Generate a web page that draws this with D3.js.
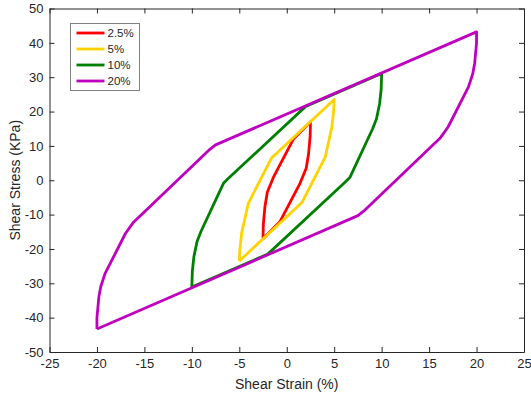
<!DOCTYPE html>
<html>
<head>
<meta charset="utf-8">
<script src="https://cdn.jsdelivr.net/npm/d3@7"></script>
<style>
  html, body { margin: 0; padding: 0; background: #fff; }
  svg { display: block; font-family: "Liberation Sans", Arial, Helvetica, sans-serif; }
</style>
</head>
<body>
<svg id="chart" width="531" height="400"></svg>
<script>
// Hysteresis loops: shear strain (%) vs shear stress (kPa) for four strain amplitudes
const seriesNames = ["2.5%", "5%", "10%", "20%"];
const seriesColors = ["#ff0000", "#ffd200", "#008000", "#bf00bf"];

const strain25 = [-2.5, -2.47, -2.3, -2.05, -1.4, 0.73, 2.5, 2.47, 2.3, 2.05, 1.4, -0.73, -2.5];
const stress25 = [-17, -13, -7.7, -3.5, 0.9, 12.1, 17, 13, 7.7, 3.5, -0.9, -12.1, -17];

const strain5 = [-5, -4.95, -4.75, -4.05, -1.6, 5, 4.95, 4.75, 4.05, 1.6, -5];
const stress5 = [-23.5, -20.5, -15.4, -6.7, 6.5, 23.5, 20.5, 15.4, 6.7, -6.5, -23.5];

const strain10 = [-10, -9.95, -9.78, -9.45, -9.05, -6.67, -6.14, 2.0, 10, 9.95, 9.78, 9.45, 9.05, 6.67, 6.14, -2.0, -10];
const stress10 = [-31.1, -26.5, -22.2, -17.8, -15.0, -0.9, 0.57, 21.5, 31.1, 26.5, 22.2, 17.8, 15.0, 0.9, -0.57, -21.5, -31.1];

const strain20 = [-20, -20, -19.9, -19.8, -19.6, -19.15, -17.0, -16.2, -8.1, -7.5, 20,
                  20, 19.9, 19.8, 19.6, 19.15, 17.0, 16.2, 8.1, 7.5, -20];
const stress20 = [-43.3, -40, -37, -34, -31, -27.2, -15.5, -12.4, 9.0, 10.3, 43.2,
                  40, 37, 34, 31, 27.2, 15.5, 12.4, -9.0, -10.3, -43.3];

const xTicks = [-25, -20, -15, -10, -5, 0, 5, 10, 15, 20, 25];
const yTicks = [-50, -40, -30, -20, -10, 0, 10, 20, 30, 40, 50];

const seriesData = [
  [strain25, stress25],
  [strain5, stress5],
  [strain10, stress10],
  [strain20, stress20]
].map(([xs, ys]) => xs.map((v, i) => [v, ys[i]]));

const svg = d3.select("#chart");
const plotLeft = 49.5, plotRight = 524, plotTop = 8.5, plotBottom = 352;

const x = d3.scaleLinear().domain([-25, 25]).range([plotLeft, plotRight]);
const y = d3.scaleLinear().domain([-50, 50]).range([plotBottom, plotTop]);

const axisColor = "#262626";
const plainNumber = d => String(d);

function styleAxis(g) {
  g.selectAll("path.domain").attr("stroke", axisColor).attr("stroke-width", 1);
  g.selectAll(".tick line").attr("stroke", axisColor);
  g.selectAll(".tick text").attr("fill", axisColor).attr("font-size", 13)
    .attr("font-family", "Liberation Sans, Arial, sans-serif");
}

// Loops
const line = d3.line().x(d => x(d[0])).y(d => y(d[1]));
svg.append("g").selectAll("path")
  .data(seriesData)
  .join("path")
  .attr("d", line)
  .attr("fill", "none")
  .attr("stroke", (d, i) => seriesColors[i])
  .attr("stroke-width", 2.8)
  .attr("stroke-linejoin", "round");

// Axes (ticks point inward, box on all sides)
svg.append("g").attr("transform", `translate(0,${plotBottom})`)
  .call(d3.axisBottom(x).tickValues(xTicks).tickFormat(plainNumber).tickSizeInner(-5).tickSizeOuter(0).tickPadding(7))
  .call(styleAxis);
svg.append("g").attr("transform", `translate(0,${plotTop})`)
  .call(d3.axisTop(x).tickValues(xTicks).tickFormat("").tickSizeInner(-5).tickSizeOuter(0))
  .call(styleAxis);
svg.append("g").attr("transform", `translate(${plotLeft},0)`)
  .call(d3.axisLeft(y).tickValues(yTicks).tickFormat(plainNumber).tickSizeInner(-5).tickSizeOuter(0).tickPadding(6))
  .call(styleAxis);
svg.append("g").attr("transform", `translate(${plotRight},0)`)
  .call(d3.axisRight(y).tickValues(yTicks).tickFormat("").tickSizeInner(-5).tickSizeOuter(0))
  .call(styleAxis);

// Axis titles
svg.append("text")
  .attr("x", (plotLeft + plotRight) / 2).attr("y", 389)
  .attr("text-anchor", "middle").attr("font-size", 14).attr("fill", axisColor)
  .text("Shear Strain (%)");
svg.append("text")
  .attr("transform", `translate(20,${(plotTop + plotBottom) / 2}) rotate(-90)`)
  .attr("text-anchor", "middle").attr("font-size", 14).attr("fill", axisColor)
  .text("Shear Stress (KPa)");

// Legend
const legend = svg.append("g").attr("transform", "translate(70.5,23.5)");
legend.append("rect")
  .attr("width", 69).attr("height", 67)
  .attr("fill", "#fff").attr("stroke", "#808080").attr("stroke-width", 1);
const item = legend.selectAll("g.item").data(seriesNames).join("g")
  .attr("class", "item")
  .attr("transform", (d, i) => `translate(0,${9.5 + i * 16})`);
item.append("line")
  .attr("x1", 6).attr("x2", 34)
  .attr("stroke", (d, i) => seriesColors[i]).attr("stroke-width", 2.8);
item.append("text")
  .attr("x", 37).attr("y", 4).attr("font-size", 11.5).attr("fill", axisColor)
  .text(d => d);
</script>
</body>
</html>
